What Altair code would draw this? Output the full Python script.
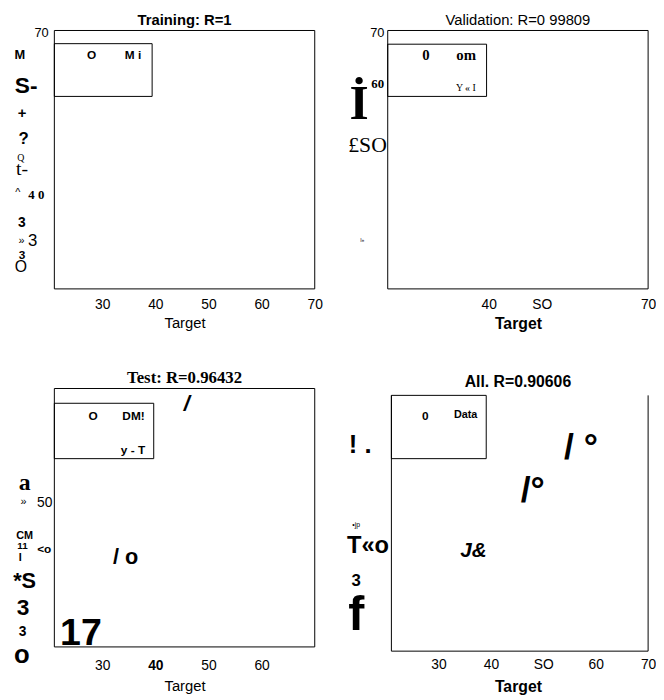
import altair as alt
import pandas as pd

# ---- per-panel scales (data units) ----
x_domain = [[21, 70], [21, 70], [21, 70], [20.3, 70]]
y_domain = [[21, 70], [21, 70], [21, 70], [22.3, 71.3]]

# ---- panel titles / axes ----
titles = ["Training: R=1", "Validation: R=0 99809", "Test: R=0.96432", "All. R=0.90606"]
title_font = ["Liberation Sans", "Liberation Sans", "Liberation Serif", "Liberation Sans"]
title_weight = ["bold", "normal", "bold", "bold"]
title_size = [15, 15, 17, 16]
title_offset = [-1.5, -1.5, 0, -1]
x_ticks = [[30, 40, 50, 60, 70], [40, 50, 70], [30, 40, 50, 60], [30, 40, 50, 60, 70]]
x_label_pad = [9, 9, 12, 11]
x_title_pad = [4, 4, 6, 7]
x_title_weight = ["normal", "bold", "normal", "bold"]
x_title_size = [15, 16, 15, 16]

# ---- frames (polylines, data units) ----
frame_x = [[21, 70, 70, 21, 21], [21, 70, 70, 21, 21], [21, 70, 70, 21, 21], [21, 21, 70, 70]]
frame_y = [[70, 70, 21, 21, 70], [70, 70, 21, 21, 70], [70, 70, 21, 21, 70], [70, 21.5, 21.5, 70]]

# ---- legend boxes (data units) ----
box_x1 = [21, 21, 21, 21]
box_x2 = [39.4, 39.6, 39.7, 39.1]
box_y1 = [67.5, 67.4, 67.2, 70.0]
box_y2 = [57.5, 57.5, 56.7, 58.0]

# ---- text fragments (panel, x, y, text, size, style) ----
g_panel = [1, 1, 1, 1, 1, 1, 1, 1, 1, 1, 1, 1, 1, 1, 1, 1,
           2, 2, 2, 2, 2, 2, 2, 2,
           3, 3, 3, 3, 3, 3, 3, 3, 3, 3, 3, 3, 3, 3, 3, 3, 3,
           4, 4, 4, 4, 4, 4, 4, 4, 4, 4]
g_x = [18.6, 14.5, 15.7, 14.9, 15.2, 14.7, 14.9, 14.1, 17.6, 14.9, 14.8, 16.9, 14.9, 14.7, 28.0, 35.8,
       19.05, 15.6, 19.1, 17.2, 16.2, 28.2, 35.75, 35.7,
       15.4, 15.2, 19.2, 15.4, 15.0, 19.1, 14.6, 15.4, 15.1, 15.0, 14.9, 26.0, 34.4, 45.9, 28.3, 35.9, 35.8,
       15.03, 14.28, 16.53, 14.28, 14.28, 36.68, 47.97, 57.2, 27.45, 35.17]
g_y = [69.6, 65.3, 59.5, 54.4, 49.4, 45.8, 43.8, 39.1, 38.8, 33.5, 30.0, 30.0, 27.5, 25.2, 65.4, 65.4,
       69.6, 56.1, 59.9, 48.3, 30.2, 65.3, 65.3, 59.1,
       52.0, 48.5, 48.3, 42.1, 40.1, 39.5, 37.8, 33.5, 28.3, 23.8, 19.5, 23.5, 38.0, 67.0, 64.7, 64.7, 58.4,
       60.6, 45.5, 41.4, 34.7, 28.3, 40.4, 51.9, 59.9, 66.1, 66.3]
g_text = ["70", "M", "S-", "+", "?", "Q", "t-", "^", "4 0", "3", "\u00bb", "3", "3", "O", "O", "M i",
          "70", "\u0130", "60", "\u00a3SO", "I\u00bb", "0", "om", "Y \u00ab I",
          "a", "\u00bb", "50", "CM", "11", "<o", "I", "*S", "3", "3", "o", "17", "/ o", "/", "O", "DM!", "y - T",
          "! .", "\u2022jp", "T\u00abo", "3", "f", "J&", "/\u00b0", "/ \u00b0", "0", "Data"]
g_size = [13, 13, 23, 15, 17, 10, 20, 11, 13, 14, 11, 17, 12, 16, 12, 12,
          13, 50, 13, 22, 5, 15, 15, 10,
          24, 11, 14, 11, 10, 12, 11, 22, 23, 14, 26, 38, 22, 22, 12, 12, 12,
          26, 7, 24, 17, 49, 21, 36, 36, 12, 11]
g_style = ["s", "sb", "sb", "sb", "sb", "r", "r", "s", "rb", "sb", "s", "s", "sb", "s", "sb", "sb",
           "s", "rb", "rb", "r", "s", "rb", "rb", "r",
           "rb", "s", "s", "sb", "sb", "sb", "sb", "sb", "sb", "sb", "sb", "sb", "sb", "sbi", "sb", "sb", "sb",
           "sb", "s", "sb", "sb", "sb", "sbi", "sb", "sb", "sb", "sb"]

STYLES = {
    "sb": ("Liberation Sans", "bold", "normal"),
    "s": ("Liberation Sans", "normal", "normal"),
    "rb": ("Liberation Serif", "bold", "normal"),
    "r": ("Liberation Serif", "normal", "normal"),
    "sbi": ("Liberation Sans", "bold", "italic"),
}

gdf = pd.DataFrame({"panel": g_panel, "x": g_x, "y": g_y, "t": g_text, "s": g_size, "style": g_style})


def make_panel(i):
    sx = alt.Scale(domain=x_domain[i], nice=False, zero=False)
    sy = alt.Scale(domain=y_domain[i], nice=False, zero=False)
    lab_expr = "datum.value == 50 ? 'SO' : datum.label" if i in (1, 3) else "datum.label"
    weight = ({"condition": {"test": "datum.value == 40", "value": "bold"}, "value": "normal"}
              if i == 2 else "normal")
    xaxis = alt.Axis(values=x_ticks[i], title="Target", titleFontWeight=x_title_weight[i],
                     titleFontSize=x_title_size[i], labelFontSize=14, labelPadding=x_label_pad[i],
                     titlePadding=x_title_pad[i], labelExpr=lab_expr, labelFlush=False,
                     labelOverlap=False, labelFontWeight=weight)
    X = alt.X("x:Q", scale=sx, axis=xaxis)
    Y = alt.Y("y:Q", scale=sy, axis=None)

    frame = pd.DataFrame({"x": frame_x[i], "y": frame_y[i], "o": list(range(len(frame_x[i])))})
    box = pd.DataFrame({"x": [box_x1[i]], "x2": [box_x2[i]], "y": [box_y1[i]], "y2": [box_y2[i]]})
    layers = [
        alt.Chart(frame).mark_line(color="black", strokeWidth=1).encode(
            x=X, y=Y, order=alt.Order("o:Q")),
        alt.Chart(box).mark_rect(fillOpacity=0, stroke="black", strokeWidth=1).encode(
            x=X, x2="x2:Q", y=Y, y2="y2:Q"),
    ]
    for st, (font, w, fs) in STYLES.items():
        sub = gdf[(gdf.panel == i + 1) & (gdf["style"] == st)]
        if len(sub) == 0:
            continue
        layers.append(alt.Chart(sub).mark_text(font=font, fontWeight=w, fontStyle=fs, color="black",
                                               align="center", baseline="middle").encode(
            x=X, y=Y, text="t:N", size=alt.Size("s:Q", scale=None)))
    return alt.layer(*layers).properties(
        width=264, height=262,
        title=alt.Title(titles[i], font=title_font[i], fontWeight=title_weight[i],
                        fontSize=title_size[i], offset=title_offset[i], color="black"))


chart = alt.concat(make_panel(0), make_panel(1), make_panel(2), make_panel(3),
                   columns=2, spacing={"row": 101, "column": 74}, bounds="flush").properties(
    padding={"left": 5, "top": 0, "right": 0, "bottom": 0}
).configure_view(strokeWidth=0).configure_axis(
    ticks=False, domain=False, grid=False, labelColor="black", titleColor="black",
    labelFont="Liberation Sans", titleFont="Liberation Sans"
)

chart.save("out.html", embed_options={"renderer": "svg", "actions": False})
